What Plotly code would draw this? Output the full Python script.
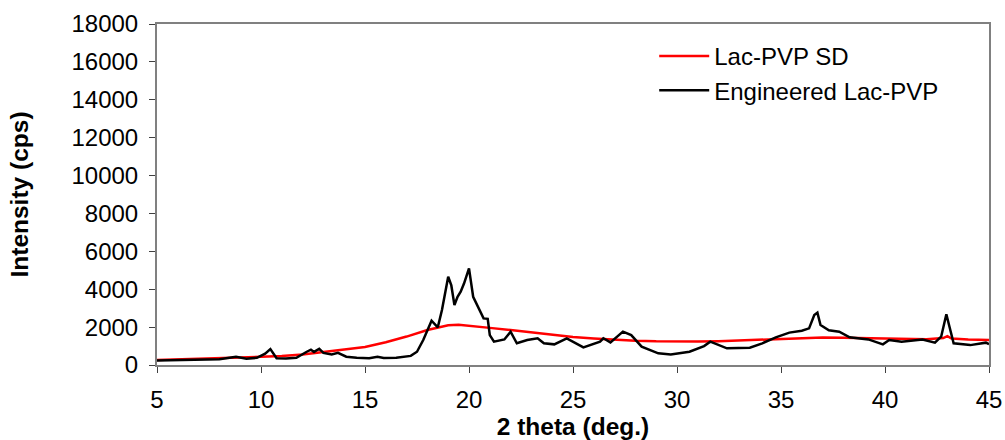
import plotly.graph_objects as go

# Lac-PVP SD (red)
sd_theta = [5, 6, 7, 8, 9, 10, 11, 12, 13, 14, 15, 16, 17, 18, 19, 19.5, 20, 21, 22, 23, 24,
            25, 26, 27, 28, 29, 30, 31, 32, 33, 34, 35, 36, 37, 38, 39, 40, 41, 42, 42.8, 43,
            43.2, 44, 45]
sd_int = [260, 290, 320, 350, 380, 410, 470, 560, 680, 810, 950, 1200, 1500, 1850, 2100, 2120,
          2080, 1960, 1850, 1720, 1600, 1480, 1400, 1330, 1280, 1250, 1230, 1240, 1260, 1300,
          1350, 1400, 1430, 1450, 1440, 1420, 1400, 1370, 1360, 1420, 1520, 1400, 1340, 1320]

# Engineered Lac-PVP (black)
eng_theta = [5, 6, 7, 8, 8.8, 9.3, 9.8, 10.2, 10.45, 10.75, 11.2, 11.7, 12.2, 12.4, 12.55, 12.8,
             13.0, 13.4, 13.7, 14.1, 14.6, 15.2, 15.6, 15.9, 16.5, 17.2, 17.5, 17.8, 18.2, 18.5,
             18.7, 19.0, 19.15, 19.3, 19.45, 19.6, 19.76, 20.0, 20.2, 20.5, 20.7, 20.9, 21.0,
             21.2, 21.7, 22.0, 22.3, 22.8, 23.3, 23.6, 24.1, 24.7, 24.9, 25.5, 26.3, 26.46,
             26.8, 27.4, 27.8, 28.3, 29.1, 29.7, 30.6, 31.3, 31.6, 32.4, 33.5, 34.1, 34.75,
             35.4, 36.0, 36.35, 36.6, 36.75, 36.9, 37.3, 37.8, 38.3, 39.2, 39.9, 40.2, 40.8,
             41.8, 42.4, 42.7, 42.95, 43.1, 43.3, 44.1, 44.85, 45]
eng_int = [240, 260, 280, 300, 440, 330, 380, 600, 840, 360, 340, 380, 700, 810, 690, 860,
           640, 550, 640, 440, 380, 360, 440, 370, 380, 480, 700, 1320, 2340, 1990,
           2900, 4660, 4200, 3170, 3600, 3870, 4300, 5100, 3600, 2900, 2460, 2440, 1580,
           1230, 1350, 1760, 1145, 1320, 1410, 1145, 1090, 1410, 1300, 930, 1230, 1410,
           1195, 1760, 1580, 970, 615, 560, 700, 1000, 1230, 880, 910, 1145, 1460,
           1710, 1810, 1935, 2640, 2760, 2110, 1830, 1760, 1460, 1350, 1090, 1320, 1230,
           1350, 1180, 1495, 2680, 2020, 1145, 1050, 1180, 1100]

x_ticks = [5, 10, 15, 20, 25, 30, 35, 40, 45]
y_ticks = [0, 2000, 4000, 6000, 8000, 10000, 12000, 14000, 16000, 18000]

FONT = "Liberation Sans, Arial, sans-serif"

fig = go.Figure()
fig.add_trace(go.Scatter(x=sd_theta, y=sd_int, mode="lines", name="Lac-PVP SD",
                         legendgroup="a", line=dict(color="#ff0000", width=2.5)))
fig.add_trace(go.Scatter(x=eng_theta, y=eng_int, mode="lines", name="Engineered Lac-PVP",
                         legendgroup="b", line=dict(color="#000000", width=2.5)))

fig.update_layout(
    width=1005, height=440,
    margin=dict(l=157, r=16, t=24, b=75, autoexpand=False),
    paper_bgcolor="white", plot_bgcolor="white",
    font=dict(family=FONT, size=24, color="black"),
    legend=dict(x=0.5976, y=0.971, xanchor="left", yanchor="top",
                bgcolor="rgba(0,0,0,0)", font=dict(size=24), tracegroupgap=0,
                traceorder="grouped", itemwidth=50),
    showlegend=True,
)
fig.update_xaxes(
    range=[5, 45], tickvals=x_ticks, ticktext=[str(v) for v in x_ticks],
    showgrid=False, zeroline=False, automargin=False,
    showline=True, linecolor="#808080", linewidth=2, mirror=True,
    ticks="outside", ticklen=6, tickcolor="#404040", tickwidth=1,
    ticklabelstandoff=6,
    title=dict(text="<b>2 theta (deg.)</b>", font=dict(size=24.5), standoff=0),
)
fig.update_yaxes(
    range=[0, 18000], tickvals=y_ticks, ticktext=[str(v) for v in y_ticks],
    showgrid=False, zeroline=False, automargin=False,
    showline=True, linecolor="#808080", linewidth=2, mirror=True,
    ticks="outside", ticklen=6, tickcolor="#404040", tickwidth=1,
    ticklabelstandoff=6,
    title=dict(text="<b>Intensity (cps)</b>", font=dict(size=24.5), standoff=36),
)

fig.write_html(
    "out.html",
    config={"displayModeBar": False},
    post_script="document.body.style.margin='0';document.body.style.padding='0';"
                "document.body.style.overflow='hidden';",
)
